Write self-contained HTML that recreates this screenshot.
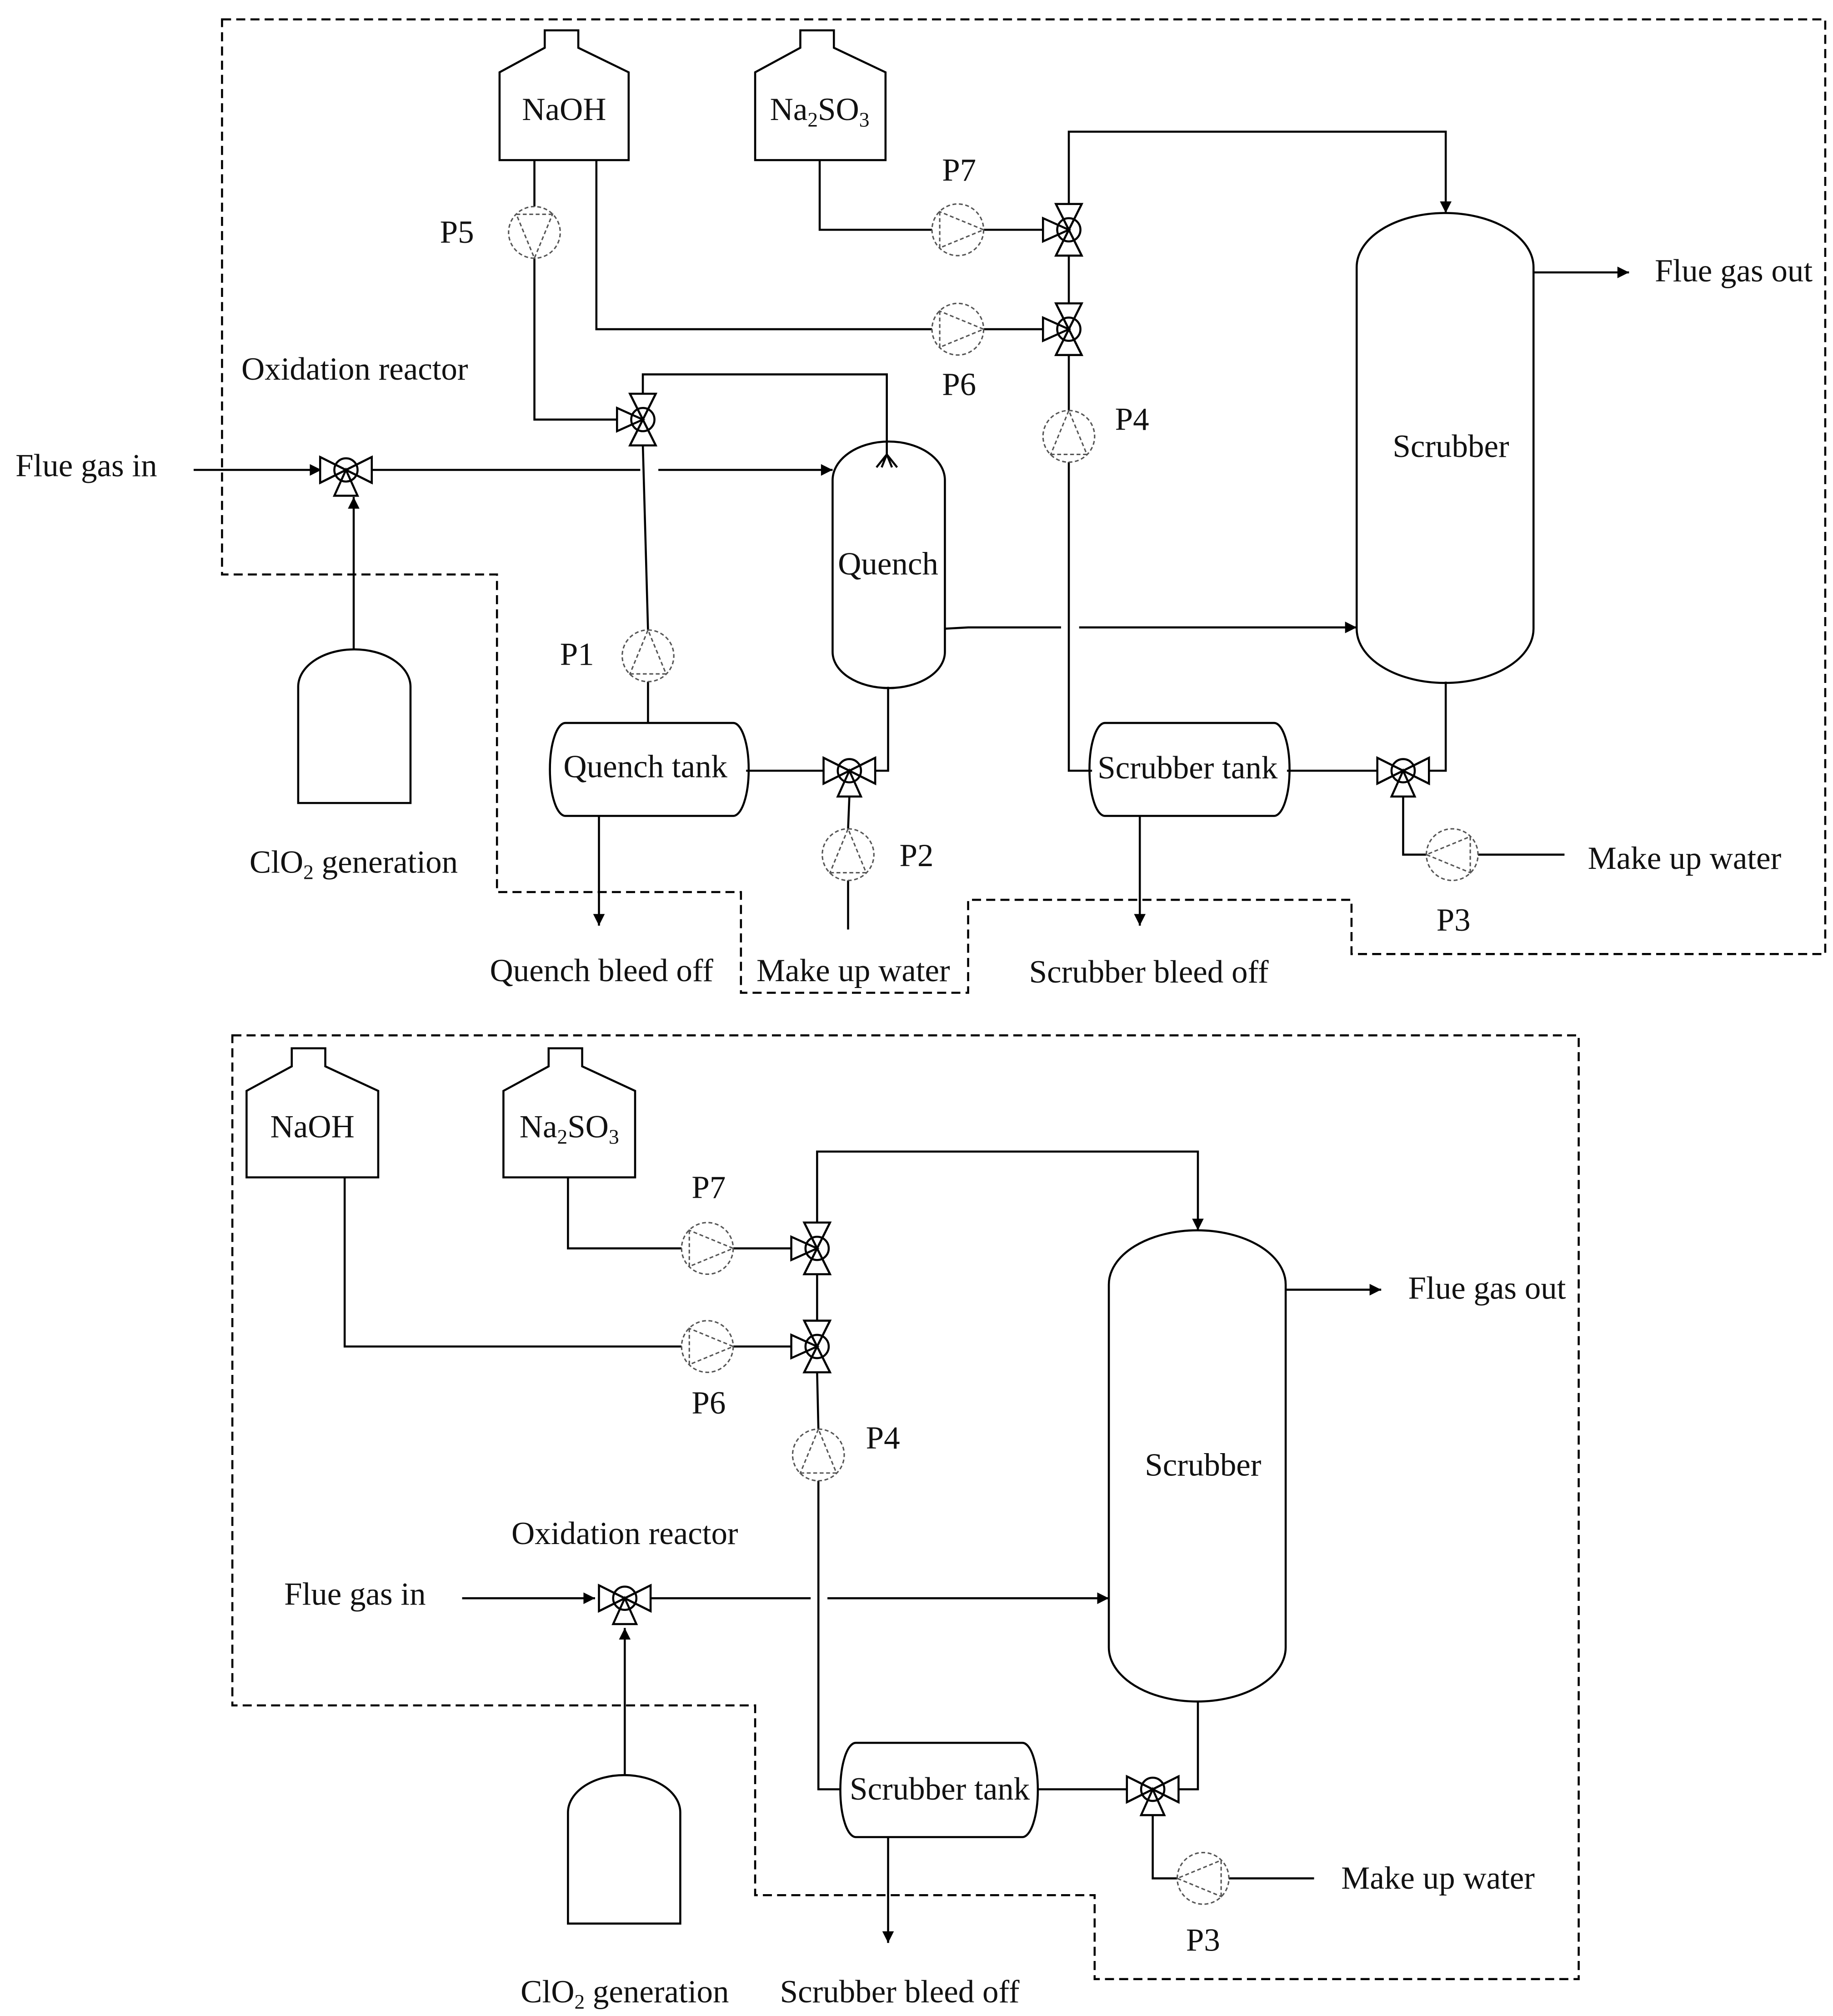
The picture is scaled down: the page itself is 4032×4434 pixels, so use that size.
<!DOCTYPE html>
<html><head><meta charset="utf-8"><style>
html,body{margin:0;padding:0;background:#fff}
svg{display:block}
text{font-family:"Liberation Serif",serif;font-size:25px;fill:#111}
</style></head><body>
<svg width="4032" height="4434" viewBox="0 0 1420 1561.6" xmlns="http://www.w3.org/2000/svg">
<defs>
<marker id="ar" viewBox="0 0 10 10" refX="10" refY="5" markerWidth="10" markerHeight="9" orient="auto" markerUnits="userSpaceOnUse"><path d="M0,0 L10,5 L0,10 Z" fill="#000"/></marker>
<g id="valve" fill="#fff" stroke="#000" stroke-width="1.6">
<polygon points="-10,-20 10,-20 0,0"/><polygon points="-10,20 10,20 0,0"/><polygon points="-20,-9 -20,9 0,0"/>
<circle r="9" fill="none"/>
<line x1="-10" y1="-20" x2="10" y2="20"/><line x1="10" y1="-20" x2="-10" y2="20"/>
</g>
<g id="pump" fill="#fff" stroke="#555" stroke-width="1.1" stroke-dasharray="3 2">
<circle r="20"/><polygon points="-14,-14 -14,14 20,0" fill="none"/>
</g>
</defs>
<g fill="none" stroke="#000" stroke-width="1.6">
<polygon points="172,15 1414,15 1414,739 1047,739 1047,697 750,697 750,769 574,769 574,691 385,691 385,445 172,445" stroke-dasharray="7 4"/>
<polygon points="180,802 1223,802 1223,1533 848,1533 848,1468 585,1468 585,1321 180,1321" stroke-dasharray="7 4"/>

<path d="M387,124 L387,56 L422,37 L422,23.5 L448,23.5 L448,37 L487,56 L487,124 Z"/>
<path d="M585,124 L585,56 L620,37 L620,23.5 L646,23.5 L646,37 L686,56 L686,124 Z"/>
<path d="M645,372 A43.5,30 0 0 1 732,372 L732,505 A43.5,28 0 0 1 645,505 Z"/>
<path d="M1051,207 A68.5,42 0 0 1 1188,207 L1188,487 A68.5,42 0 0 1 1051,487 Z"/>
<path d="M231,532 A43.5,29 0 0 1 318,532 L318,622 L231,622 Z"/>
<path d="M438,560 L568,560 A12,36 0 0 1 568,632 L438,632 A12,36 0 0 1 438,560 Z"/>
<path d="M856,560 L987,560 A12,36 0 0 1 987,632 L856,632 A12,36 0 0 1 856,560 Z"/>

<path d="M150,364 L249,364" marker-end="url(#ar)"/>
<path d="M288,364 L496,364"/>
<path d="M510,364 L645,364" marker-end="url(#ar)"/>
<path d="M274,503 L274,385" marker-end="url(#ar)"/>
<path d="M414,124 L414,160 M414,200 L414,325 L478,325"/>
<path d="M498,305 L498,290 L687,290 L687,352"/>
<path d="M679,362 L687,352 L695,362 M683,362 L687,352 L691,362"/>
<path d="M498,345 L502,488 M502,528 L502,560"/>
<path d="M462,124 L462,255 L722,255 M762,255 L808,255"/>
<path d="M635,124 L635,178 L722,178 M762,178 L808,178"/>
<path d="M828,158 L828,102 L1120,102 L1120,165" marker-end="url(#ar)"/>
<path d="M828,198 L828,235 M828,275 L828,318 M828,358 L828,597 L846,597"/>
<path d="M732,487 L750,486 L822,486 M836,486 L1051,486" marker-end="url(#ar)"/>
<path d="M688,532 L688,597 L678,597 M638,597 L578,597"/>
<path d="M658,617 L657,642 M657,682 L657,720"/>
<path d="M464,632 L464,717" marker-end="url(#ar)"/>
<path d="M883,632 L883,717" marker-end="url(#ar)"/>
<path d="M1120,528 L1120,597 L1107,597 M1067,597 L997,597"/>
<path d="M1087,617 L1087,662 L1105,662 M1145,662 L1212,662"/>
<path d="M1188,211 L1262,211" marker-end="url(#ar)"/>

<path d="M191,912 L191,845 L226,826 L226,812 L252,812 L252,826 L293,845 L293,912 Z"/>
<path d="M390,912 L390,845 L425,826 L425,812 L451,812 L451,826 L492,845 L492,912 Z"/>
<path d="M859,995 A68.5,42 0 0 1 996,995 L996,1276 A68.5,42 0 0 1 859,1276 Z"/>
<path d="M440,1404 A43.5,29 0 0 1 527,1404 L527,1490 L440,1490 Z"/>
<path d="M663,1350 L792,1350 A12,36.5 0 0 1 792,1423 L663,1423 A12,36.5 0 0 1 663,1350 Z"/>

<path d="M267,912 L267,1043 L528,1043 M568,1043 L613,1043"/>
<path d="M440,912 L440,967 L528,967 M568,967 L613,967"/>
<path d="M633,947 L633,892 L928,892 L928,953" marker-end="url(#ar)"/>
<path d="M633,987 L633,1023 M633,1063 L634,1107 M634,1147 L634,1386 L651,1386"/>
<path d="M358,1238 L461,1238" marker-end="url(#ar)"/>
<path d="M504,1238 L628,1238 M641,1238 L859,1238" marker-end="url(#ar)"/>
<path d="M484,1375 L484,1261" marker-end="url(#ar)"/>
<path d="M996,999 L1070,999" marker-end="url(#ar)"/>
<path d="M928,1318 L928,1386 L913,1386 M873,1386 L804,1386"/>
<path d="M893,1406 L893,1455 L912,1455 M952,1455 L1018,1455"/>
<path d="M688,1423 L688,1505" marker-end="url(#ar)"/>
</g>

<use href="#valve" transform="translate(268,364) rotate(-90)"/>
<use href="#valve" transform="translate(498,325)"/>
<use href="#valve" transform="translate(828,178)"/>
<use href="#valve" transform="translate(828,255)"/>
<use href="#valve" transform="translate(658,597) rotate(-90)"/>
<use href="#valve" transform="translate(1087,597) rotate(-90)"/>
<use href="#valve" transform="translate(484,1238) rotate(-90)"/>
<use href="#valve" transform="translate(633,967)"/>
<use href="#valve" transform="translate(633,1043)"/>
<use href="#valve" transform="translate(893,1386) rotate(-90)"/>

<use href="#pump" transform="translate(414,180) rotate(90)"/>
<use href="#pump" transform="translate(742,178)"/>
<use href="#pump" transform="translate(742,255)"/>
<use href="#pump" transform="translate(828,338) rotate(-90)"/>
<use href="#pump" transform="translate(502,508) rotate(-90)"/>
<use href="#pump" transform="translate(657,662) rotate(-90)"/>
<use href="#pump" transform="translate(1125,662) rotate(180)"/>
<use href="#pump" transform="translate(548,967)"/>
<use href="#pump" transform="translate(548,1043)"/>
<use href="#pump" transform="translate(634,1127) rotate(-90)"/>
<use href="#pump" transform="translate(932,1455) rotate(180)"/>

<text x="437" y="93" text-anchor="middle">NaOH</text>
<text x="635" y="93" text-anchor="middle">Na<tspan font-size="16" dy="5">2</tspan><tspan dy="-5">SO</tspan><tspan font-size="16" dy="5">3</tspan></text>
<text x="12" y="369">Flue gas in</text>
<text x="187" y="294">Oxidation reactor</text>
<text x="688" y="445" text-anchor="middle">Quench</text>
<text x="1124" y="354" text-anchor="middle">Scrubber</text>
<text x="500" y="602" text-anchor="middle">Quench tank</text>
<text x="920" y="603" text-anchor="middle">Scrubber tank</text>
<text x="274" y="676" text-anchor="middle">ClO<tspan font-size="16" dy="5">2</tspan><tspan dy="-5"> generation</tspan></text>
<text x="466" y="760" text-anchor="middle">Quench bleed off</text>
<text x="661" y="760" text-anchor="middle">Make up water</text>
<text x="890" y="761" text-anchor="middle">Scrubber bleed off</text>
<text x="1305" y="673" text-anchor="middle">Make up water</text>
<text x="1282" y="218">Flue gas out</text>
<text x="354" y="188" text-anchor="middle">P5</text>
<text x="743" y="140" text-anchor="middle">P7</text>
<text x="743" y="306" text-anchor="middle">P6</text>
<text x="877" y="333" text-anchor="middle">P4</text>
<text x="447" y="515" text-anchor="middle">P1</text>
<text x="710" y="671" text-anchor="middle">P2</text>
<text x="1126" y="721" text-anchor="middle">P3</text>

<text x="242" y="881" text-anchor="middle">NaOH</text>
<text x="441" y="881" text-anchor="middle">Na<tspan font-size="16" dy="5">2</tspan><tspan dy="-5">SO</tspan><tspan font-size="16" dy="5">3</tspan></text>
<text x="549" y="928" text-anchor="middle">P7</text>
<text x="549" y="1095" text-anchor="middle">P6</text>
<text x="684" y="1122" text-anchor="middle">P4</text>
<text x="484" y="1196" text-anchor="middle">Oxidation reactor</text>
<text x="275" y="1243" text-anchor="middle">Flue gas in</text>
<text x="932" y="1143" text-anchor="middle">Scrubber</text>
<text x="728" y="1394" text-anchor="middle">Scrubber tank</text>
<text x="484" y="1551" text-anchor="middle">ClO<tspan font-size="16" dy="5">2</tspan><tspan dy="-5"> generation</tspan></text>
<text x="697" y="1551" text-anchor="middle">Scrubber bleed off</text>
<text x="1114" y="1463" text-anchor="middle">Make up water</text>
<text x="932" y="1511" text-anchor="middle">P3</text>
<text x="1152" y="1006" text-anchor="middle">Flue gas out</text>
</svg>
</body></html>
